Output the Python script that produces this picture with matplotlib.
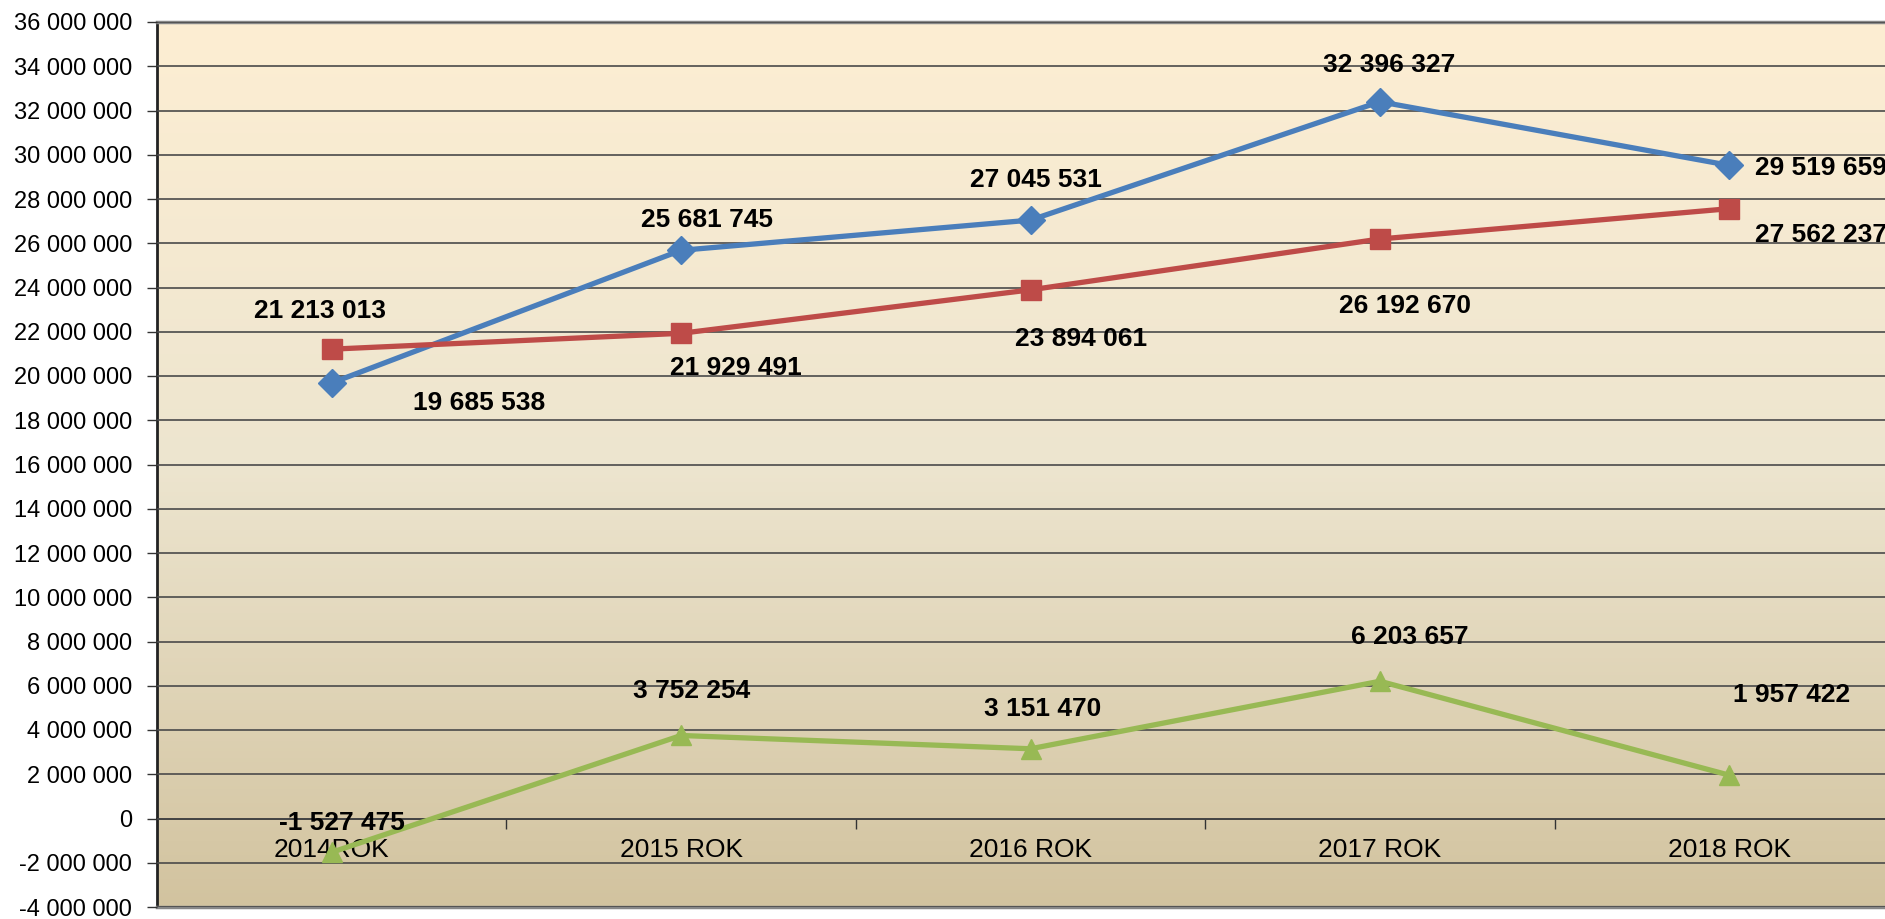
import numpy as np
import matplotlib.pyplot as plt
from matplotlib.colors import LinearSegmentedColormap
from matplotlib.ticker import FuncFormatter

plt.rcParams['font.family'] = ['Liberation Sans', 'DejaVu Sans']

categories = ["2014ROK", "2015 ROK", "2016 ROK", "2017 ROK", "2018 ROK"]
blue_vals = [19685538, 25681745, 27045531, 32396327, 29519659]
red_vals = [21213013, 21929491, 23894061, 26192670, 27562237]
green_vals = [-1527475, 3752254, 3151470, 6203657, 1957422]

# label offsets in pixels (dx, dy, ha)
blue_off = [(147, -18, "center"), (26, 33, "center"), (5, 43, "center"), (9, 39, "center"), (26, 0, "left")]
red_off = [(-12, 41, "center"), (55, -32, "center"), (51, -47, "center"), (25, -65, "center"), (26, -24, "left")]
green_off = [(10, 32, "center"), (11, 47, "center"), (12, 42, "center"), (30, 47, "center"), (4, 83, "left")]

W, H = 1885, 919
fig = plt.figure(figsize=(W / 100, H / 100), dpi=100)
ax = fig.add_axes([157 / W, (H - 907) / H, (1904 - 157) / W, (907 - 22) / H])

ymin, ymax = -4e6, 36e6
x = np.arange(len(categories)) + 0.5

# background gradient
cmap = LinearSegmentedColormap.from_list("bg", ["#D2C39F", "#EDE5CF", "#FDEED3"])
grad = np.linspace(0, 1, 256).reshape(-1, 1)
ax.imshow(grad, extent=[0, len(categories), ymin, ymax], origin="lower",
          aspect="auto", cmap=cmap, zorder=0)

ax.set_xlim(0, len(categories))
ax.set_ylim(ymin, ymax)
ax.set_yticks(np.arange(ymin, ymax + 1, 2e6))
ax.yaxis.set_major_formatter(FuncFormatter(lambda v, p: f"{int(v):,}".replace(",", " ")))
ax.tick_params(axis="y", labelsize=17, length=7, width=1, pad=11, color="#333333")
ax.yaxis.grid(True, color="#4a4a4a", linewidth=1.2, zorder=1)
ax.set_axisbelow(False)
ax.set_xticks([])

for s in ["top", "right", "bottom"]:
    ax.spines[s].set_color("#888888")
    ax.spines[s].set_linewidth(2.5)
ax.spines["left"].set_color("#222222")
ax.spines["left"].set_linewidth(2)

# category axis crossing at zero
sec = ax.secondary_xaxis((0 - ymin) / (ymax - ymin))
sec.set_xticks(np.arange(1, len(categories)))
sec.set_xticklabels([])
sec.set_xticks(x, minor=True)
sec.set_xticklabels(categories, minor=True)
sec.tick_params(which="major", length=7, width=1, color="#333333")
sec.tick_params(which="minor", length=0, labelsize=19, pad=14)
sec.spines["bottom"].set_color("#111111")
sec.spines["bottom"].set_linewidth(1.2)

series = [
    (blue_vals, "#4A7EBB", "D", 14, blue_off),
    (red_vals, "#BE4B48", "s", 14, red_off),
    (green_vals, "#98B954", "^", 15, green_off),
]
for vals, col, mk, ms, offs in series:
    ax.plot(x, vals, color=col, linewidth=3.8, marker=mk, markersize=ms,
            markeredgecolor=col, zorder=3, clip_on=False)
    for xi, v, (dx, dy, ha) in zip(x, vals, offs):
        ax.annotate(f"{v:,}".replace(",", " "), (xi, v), xytext=(dx, dy),
                    textcoords="offset pixels", ha=ha, va="center_baseline",
                    fontsize=19, fontweight="bold", zorder=4)

fig.savefig("out.png", dpi=100)
